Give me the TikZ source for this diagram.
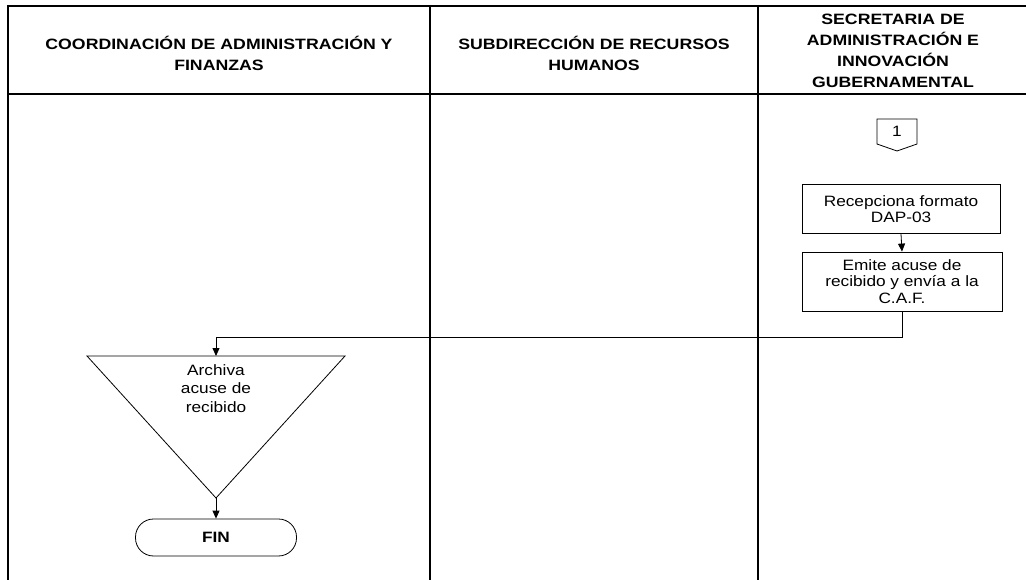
\documentclass[tikz,border=0pt]{standalone}
\usepackage{fontspec}
\setmainfont{Liberation Sans}[FakeStretch=1.15]
\newfontfamily\hdrfont{Liberation Sans}[FakeStretch=1.18]
\usetikzlibrary{arrows.meta}
\tikzset{
  lane/.style={line width=2.4pt},
  hdr/.style={align=center, font=\hdrfont\bfseries\fontsize{15}{21}\selectfont, inner sep=0pt},
  txt/.style={align=center, font=\fontsize{15}{16.5}\selectfont, inner sep=0pt},
  procbox/.style={draw, line width=0.8pt, align=center, font=\fontsize{15}{16.5}\selectfont, inner sep=0pt},
  shp/.style={line width=0.8pt},
  flow/.style={line width=0.8pt, -{Triangle[length=8pt,width=7pt]}},
}
\begin{document}
\begin{tikzpicture}[x=1pt,y=-1pt]
\useasboundingbox (0,0) rectangle (1026,580);
% swimlane grid
\draw[lane] (8,6) -- (1026,6);
\draw[lane] (8,94) -- (1026,94);
\draw[lane] (8,5) -- (8,580);
\draw[lane] (430,5) -- (430,580);
\draw[lane] (758,5) -- (758,580);
% headers
\node[hdr] (h1) at (219,53.5) {COORDINACIÓN DE ADMINISTRACIÓN Y\\FINANZAS};
\node[hdr] (h2) at (594,53.5) {SUBDIRECCIÓN DE RECURSOS\\HUMANOS};
\node[hdr] (h3) at (893,50.5) {SECRETARIA DE\\ADMINISTRACIÓN E\\INNOVACIÓN\\GUBERNAMENTAL};
% off-page connector
\node[txt] (c1) at (897,131) {1};
\draw[shp] (877,119) -- (917,119) -- (917,144) -- (897,151) -- (877,144) -- cycle;
% process boxes
\node[procbox, minimum width=198, minimum height=49] (b1) at (901,209) {Recepciona formato\\DAP-03};
\node[procbox, minimum width=200, minimum height=59] (b2) at (902,281.5) {Emite acuse de\\recibido y envía a la\\C.A.F.};
\draw[flow] (b1.south) -- (b2.north);
% archive triangle
\coordinate (tritop) at (216,356);
\coordinate (triapex) at (216,498);
\draw[shp] (87,356) -- (345,356) -- (triapex) -- cycle;
\node[txt, font=\fontsize{15}{18.5}\selectfont] (arch) at (216,388.5) {Archiva\\acuse de\\recibido};
\coordinate (bend) at (902,337);
\draw[flow] (b2.south) -- (bend) -| (tritop);
% end terminal
\node[draw, shp, rounded corners=18pt, minimum width=161, minimum height=37, font=\bfseries\fontsize{15}{16}\selectfont] (fin) at (216,537.5) {FIN};
\draw[flow] (triapex) -- (fin.north);
\end{tikzpicture}
\end{document}
